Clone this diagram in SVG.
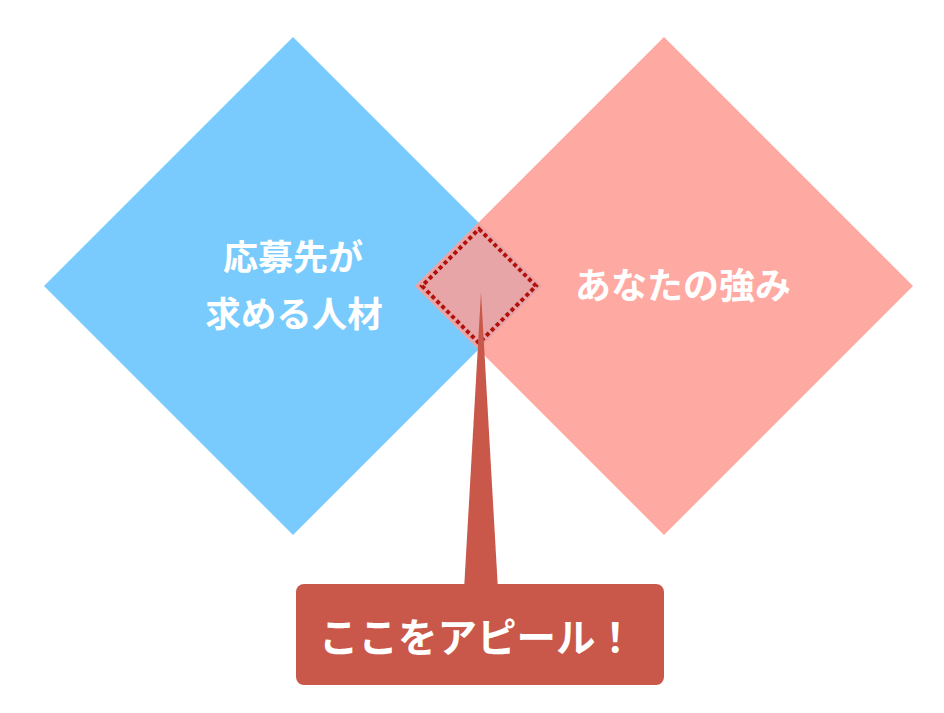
<svg xmlns="http://www.w3.org/2000/svg" width="944" height="713" viewBox="0 0 944 713">
<style>
.lbl{font-family:"Noto Sans CJK JP","Noto Sans",sans-serif;font-weight:bold;fill:#ffffff;text-anchor:middle}
</style>
<rect width="944" height="713" fill="#ffffff"/>
<g id="need">
<polygon points="293,37 542,286 293,535 44,286" fill="#79CBFD"/>
<text class="lbl" x="293" y="270" font-size="35">応募先が</text>
<text class="lbl" x="294" y="327" font-size="35.5">求める人材</text>
</g>
<g id="strength">
<polygon points="664,37 913,286 664,535 415,286" fill="#FFA9A3"/>
<text class="lbl" x="683" y="299" font-size="36">あなたの強み</text>
</g>
<g id="overlap">
<polygon points="478.5,222.5 542,286 478.5,349.5 415,286" fill="#E8A5A7"/>
<polygon points="479,229 536,286 479,343 422,286" fill="none" stroke="#B3110C" stroke-width="4" stroke-dasharray="4 3"/>
</g>
<g id="connectors">
<polygon points="481,292 498,590 464,590" fill="#C9584A"/>
</g>
<g id="callout">
<rect x="296" y="584" width="368" height="101" rx="8" fill="#C9584A"/>
<text class="lbl" x="477" y="652" font-size="39.5">ここをアピール！</text>
</g>
</svg>
